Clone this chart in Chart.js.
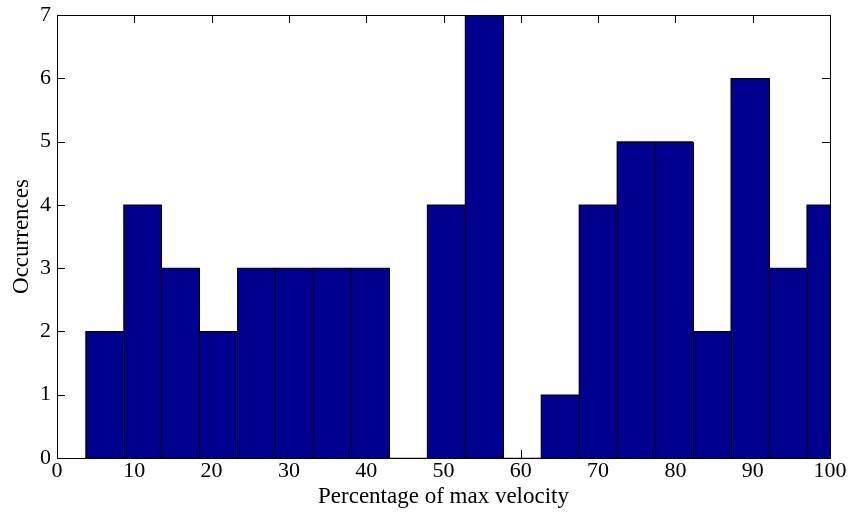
<!DOCTYPE html>
<html>
<head>
<meta charset="utf-8">
<title>Percentage of max velocity</title>
<script src="https://cdn.jsdelivr.net/npm/chart.js@4.4.1/dist/chart.umd.min.js"></script>
<style>
  html, body { margin: 0; padding: 0; background: #fff; }
  #wrap { width: 850px; height: 518px; }
</style>
</head>
<body>
<div id="wrap"><canvas id="histChart" width="850" height="518"></canvas></div>
<script>
// histogram bins (centre of each bin, % of max velocity), bin width ~4.91
const binCenters  = [6.15, 11.06, 15.97, 20.88, 25.79, 30.70, 35.61, 40.52, 45.43, 50.34,
                     55.25, 60.16, 65.07, 69.98, 74.89, 79.80, 84.71, 89.62, 94.53, 99.44];
const occurrences = [2, 4, 3, 2, 3, 3, 3, 3, 0, 4, 7, 0, 1, 4, 5, 5, 2, 6, 3, 4];
const xTicks = [0, 10, 20, 30, 40, 50, 60, 70, 80, 90, 100];
const yTicks = [0, 1, 2, 3, 4, 5, 6, 7];

const FONT = "'Liberation Serif', 'Times New Roman', serif";
const TICK_LEN = 8;

Chart.defaults.font.family = FONT;
Chart.defaults.color = '#000';

// matlab style axes: box all round, ticks pointing inward, black bar edges
const matlabAxes = {
  id: 'matlabAxes',
  beforeDatasetsDraw(chart) {
    const { ctx, chartArea: a, scales: { x, y } } = chart;
    ctx.save();
    ctx.strokeStyle = '#000';
    ctx.lineWidth = 1;
    ctx.beginPath();
    xTicks.forEach(v => {
      const px = Math.round(x.getPixelForValue(v)) + 0.5;
      ctx.moveTo(px, a.bottom); ctx.lineTo(px, a.bottom - TICK_LEN);
      ctx.moveTo(px, a.top);    ctx.lineTo(px, a.top + TICK_LEN);
    });
    yTicks.forEach(v => {
      const py = Math.round(y.getPixelForValue(v)) + 0.5;
      ctx.moveTo(a.left, py);  ctx.lineTo(a.left + TICK_LEN, py);
      ctx.moveTo(a.right, py); ctx.lineTo(a.right - TICK_LEN, py);
    });
    ctx.stroke();
    ctx.restore();
  },
  afterDatasetsDraw(chart) {
    const { ctx, chartArea: a } = chart;
    ctx.save();
    ctx.beginPath();
    ctx.rect(a.left, a.top, a.right - a.left, a.bottom - a.top);
    ctx.clip();
    ctx.strokeStyle = '#000';
    ctx.lineWidth = 1;
    chart.getDatasetMeta(0).data.forEach(bar => {
      const { x, y, base, width } = bar.getProps(['x', 'y', 'base', 'width']);
      if (Math.abs(base - y) < 0.5) return;
      const l = Math.round(x - width / 2) + 0.5, r = Math.round(x + width / 2) + 0.5;
      const t = Math.round(y) + 0.5, b = Math.round(base) + 0.5;
      ctx.strokeRect(l, t, r - l, b - t);
    });
    ctx.restore();

    ctx.save();
    ctx.strokeStyle = '#000';
    ctx.lineWidth = 1;
    ctx.strokeRect(Math.round(a.left) + 0.5, Math.round(a.top) + 0.5,
                   Math.round(a.right - a.left), Math.round(a.bottom - a.top));
    ctx.restore();
  }
};

new Chart(document.getElementById('histChart'), {
  type: 'bar',
  data: {
    datasets: [{
      data: binCenters.map((c, i) => ({ x: c, y: occurrences[i] })),
      backgroundColor: '#00008f',
      borderWidth: 0,
      barPercentage: 1,
      categoryPercentage: 1,
      clip: 0
    }]
  },
  options: {
    responsive: false,
    animation: false,
    layout: { padding: { top: 15, right: 20, left: 0, bottom: 0 } },
    plugins: { legend: { display: false }, tooltip: { enabled: false } },
    scales: {
      x: {
        type: 'linear',
        offset: false,
        min: 0, max: 100,
        afterBuildTicks: s => { s.ticks = xTicks.map(v => ({ value: v })); },
        afterFit: s => { s.height = 60; },
        grid: { display: false, offset: false },
        border: { display: false },
        ticks: { font: { size: 22 }, padding: -8, maxRotation: 0 },
        title: { display: true, text: 'Percentage of max velocity',
                 font: { size: 23 }, padding: { top: 0, bottom: 7 } }
      },
      y: {
        min: 0, max: 7,
        afterBuildTicks: s => { s.ticks = yTicks.map(v => ({ value: v })); },
        afterFit: s => { s.width = 57; },
        grid: { display: false },
        border: { display: false },
        ticks: { font: { size: 22 }, padding: -2 },
        title: { display: true, text: 'Occurrences',
                 font: { size: 23 }, padding: { top: 8, bottom: 0 } }
      }
    }
  },
  plugins: [matlabAxes]
});
</script>
</body>
</html>
